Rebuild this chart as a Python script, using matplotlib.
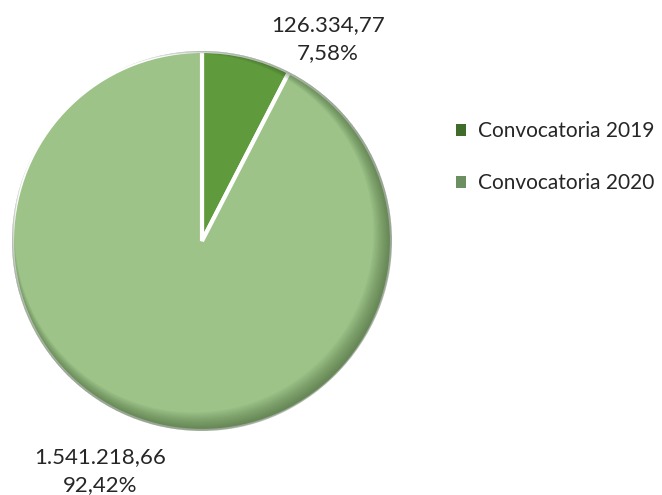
import numpy as np
import matplotlib.pyplot as plt
from matplotlib.patches import Patch, Circle

plt.rcParams['font.family'] = ['Lato', 'DejaVu Sans']

categories = ['Convocatoria 2019', 'Convocatoria 2020']
values = [126334.77, 1541218.66]
slice_colors = ['#5f9b3d', '#9dc389']
legend_colors = ['#3f6b2b', '#6b8f60']


def fmt_es(v):
    s = f"{v:,.2f}"
    return s.replace(',', 'X').replace('.', ',').replace('X', '.')


fig = plt.figure(figsize=(6.62, 4.95), dpi=100)
ax = fig.add_axes([0, 0, 1, 1])

cx, cy, r = 202, 254, 190
wedges, _ = ax.pie(values, colors=slice_colors, startangle=90, counterclock=False,
                   center=(cx, cy), radius=r, frame=True,
                   wedgeprops=dict(edgecolor='white', linewidth=3))
ax.set_xlim(0, 662)
ax.set_ylim(0, 495)
ax.axis('off')

# soft inner shadow along the lower right rim
clip = Circle((cx, cy), r, transform=ax.transData)
for i in range(14):
    ring = Circle((cx - 1.5 - i * 0.5, cy + 1.5 + i * 0.5), r, facecolor='none',
                  edgecolor='#2e4a22', linewidth=1 + i * 1.1, alpha=0.045, zorder=3)
    ax.add_patch(ring)
    ring.set_clip_path(clip)

total = sum(values)
pcts = [v / total * 100 for v in values]
lab_pos = [(328, 456), (100, 24)]
for v, p, (x, y) in zip(values, pcts, lab_pos):
    txt = fmt_es(v) + "\n" + f"{p:.2f}".replace('.', ',') + "%"
    ax.text(x, y, txt, ha='center', va='center', fontsize=16, color='#262626',
            linespacing=1.55)

handles = [Patch(facecolor=c, edgecolor='none') for c in legend_colors]
fig.legend(handles, categories, loc='upper left', bbox_to_anchor=(456 / 662, 1 - 121 / 495),
           frameon=False, fontsize=15, handlelength=0.5, handleheight=0.5,
           handletextpad=0.55, labelspacing=1.55, labelcolor='#262626',
           borderpad=0, borderaxespad=0)

fig.savefig('out.png', dpi=100)
